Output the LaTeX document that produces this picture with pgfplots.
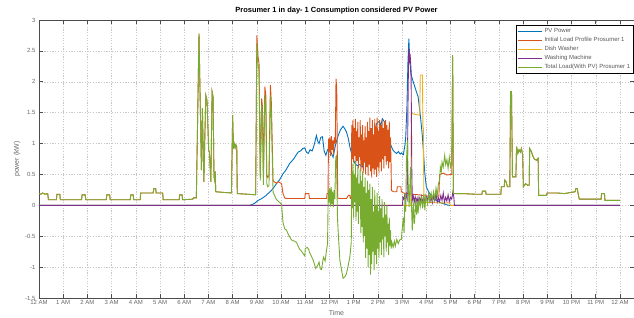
\documentclass[border=0pt]{standalone}
\usepackage{fontspec}
\setmainfont{Liberation Sans}
\usepackage{pgfplots}
\usepackage{pgfplotstable}
\pgfplotsset{compat=1.18}
\definecolor{mblue}{rgb}{0,0.447,0.741}
\definecolor{morange}{rgb}{0.85,0.325,0.098}
\definecolor{myellow}{rgb}{0.929,0.694,0.125}
\definecolor{mpurple}{rgb}{0.494,0.184,0.556}
\definecolor{mgreen}{rgb}{0.466,0.674,0.188}

% shared load profile before PV generation
\pgfplotstableread{
t p
0.00 0.19
0.08 0.18
0.15 0.20
0.25 0.18
0.36 0.19
0.39 0.09
0.72 0.09
0.74 0.18
0.86 0.18
0.88 0.09
1.76 0.09
1.78 0.17
1.91 0.17
1.93 0.09
2.78 0.09
2.80 0.17
2.92 0.17
2.94 0.09
3.77 0.09
3.79 0.17
3.89 0.17
3.91 0.09
4.18 0.09
4.20 0.20
4.72 0.20
4.74 0.27
4.82 0.27
4.84 0.20
5.11 0.20
5.13 0.09
5.79 0.09
5.81 0.17
5.91 0.17
5.93 0.09
6.35 0.10
6.38 0.12
6.50 0.12
6.61 2.78
6.71 0.57
6.75 1.57
6.81 0.38
6.89 1.78
6.94 1.70
7.01 0.89
7.04 0.86
7.10 0.38
7.15 1.84
7.19 1.76
7.23 0.46
7.26 0.40
7.28 0.55
7.30 0.22
7.60 0.21
7.95 0.20
8.00 1.46
8.03 0.92
8.06 1.00
8.10 0.93
8.13 0.98
8.17 0.95
8.19 0.19
8.60 0.18
8.95 0.17
}\early

% shared load profile after PV generation
\pgfplotstableread{
t p
17.12 0.19
17.50 0.19
18.00 0.18
18.30 0.18
18.32 0.23
18.45 0.23
18.47 0.18
19.08 0.18
19.10 0.30
19.22 0.30
19.24 0.41
19.30 0.38
19.35 0.30
19.45 0.30
19.48 1.84
19.52 1.84
19.56 0.46
19.70 0.46
19.73 0.95
19.78 0.84
19.83 0.90
19.88 0.86
19.93 0.92
19.98 0.82
20.01 0.30
20.10 0.35
20.20 0.32
20.25 0.33
20.27 0.92
20.33 0.88
20.40 0.80
20.46 0.75
20.55 0.73
20.62 0.76
20.64 0.16
20.97 0.16
20.99 0.20
21.40 0.20
21.70 0.19
22.00 0.21
22.15 0.22
22.18 0.27
22.24 0.27
22.26 0.21
22.32 0.10
23.22 0.10
23.24 0.19
23.36 0.19
23.38 0.08
24.00 0.08
}\late

\pgfplotstableread{
t p
0 0
8.70 0
8.78 0.01
8.90 0.03
9.05 0.08
9.20 0.11
9.35 0.15
9.46 0.19
9.60 0.24
9.70 0.29
9.81 0.35
9.95 0.42
10.08 0.51
10.20 0.57
10.36 0.68
10.50 0.74
10.60 0.80
10.70 0.86
10.80 0.88
10.90 0.92
10.98 0.93
11.05 0.86
11.12 0.84
11.20 0.90
11.28 0.88
11.35 0.95
11.46 1.13
11.52 1.03
11.57 1.00
11.64 1.10
11.71 1.11
11.78 0.88
11.85 0.81
11.92 0.90
12.01 0.92
12.08 0.84
12.15 0.78
12.25 0.98
12.36 1.13
12.45 1.22
12.56 1.28
12.63 1.24
12.70 1.19
12.78 1.08
12.84 0.95
12.95 0.78
13.05 0.68
13.15 0.64
13.25 0.66
13.35 0.62
13.46 0.73
13.55 0.76
13.65 0.86
13.74 0.89
13.84 1.10
13.94 1.32
14.05 1.36
14.12 1.30
14.19 1.40
14.27 1.35
14.36 1.22
14.43 1.10
14.49 1.02
14.56 0.95
14.63 0.89
14.70 0.86
14.77 0.84
14.85 0.87
14.92 0.83
14.97 0.85
15.05 0.82
15.12 0.98
15.15 1.11
15.20 1.60
15.24 2.30
15.28 2.70
15.31 2.40
15.36 2.13
15.42 2.05
15.50 1.95
15.58 1.85
15.66 1.76
15.71 1.60
15.76 1.43
15.84 1.11
15.90 0.75
15.94 0.51
16.00 0.30
16.07 0.24
16.14 0.19
16.28 0.12
16.42 0.08
16.60 0.04
16.83 0.01
16.95 0
24 0
}\pv

\pgfplotstableread{
t p
8.95 0.17
9.00 2.75
9.05 2.40
9.09 2.30
9.14 0.52
9.20 1.73
9.23 1.60
9.27 0.46
9.33 1.92
9.37 1.78
9.41 0.50
9.45 0.45
9.50 0.48
9.56 1.95
9.60 1.65
9.63 1.10
9.67 0.40
9.72 0.38
9.80 0.36
9.90 0.38
10.02 0.35
10.08 0.19
10.15 0.12
10.22 0.11
10.60 0.11
10.98 0.11
11.00 0.19
11.15 0.19
11.17 0.11
11.50 0.11
11.88 0.11
11.90 0.19
11.94 0.19
11.96 1.08
11.99 0.85
12.02 1.10
12.05 0.80
12.08 1.12
12.11 0.90
12.14 1.05
12.17 0.82
12.20 1.10
12.24 1.00
12.27 2.05
12.30 1.90
12.34 0.12
12.40 0.11
12.70 0.11
12.78 0.16
12.84 0.16
12.86 0.11
12.90 0.11
12.92 1.30
12.945 0.75
12.97 1.38
12.995 0.70
13.02 1.25
13.045 0.80
13.07 1.40
13.095 0.68
13.12 1.20
13.145 0.72
13.17 1.35
13.195 0.60
13.22 1.10
13.245 0.78
13.27 1.38
13.295 0.55
13.32 1.15
13.345 0.65
13.37 1.30
13.395 0.52
13.42 1.05
13.445 0.70
13.47 1.28
13.495 0.50
13.52 1.10
13.545 0.62
13.57 1.35
13.595 0.48
13.62 1.20
13.645 0.66
13.67 1.42
13.695 0.55
13.72 1.25
13.745 0.45
13.77 1.38
13.795 0.60
13.82 1.15
13.845 0.50
13.87 1.40
13.895 0.58
13.92 1.28
13.945 0.46
13.97 1.42
13.995 0.62
14.02 1.20
14.045 0.52
14.07 1.38
14.095 0.70
14.12 1.30
14.145 0.55
14.17 1.40
14.195 0.75
14.22 1.25
14.245 0.60
14.27 1.35
14.295 0.80
14.32 1.38
14.345 0.65
14.37 1.30
14.395 0.72
14.42 1.22
14.445 0.60
14.47 1.36
14.495 0.70
14.52 1.10
14.545 0.65
14.56 0.24
14.65 0.22
14.78 0.22
14.80 0.30
14.95 0.30
14.97 0.22
15.05 0.20
15.40 0.18
15.70 0.17
16.00 0.15
16.40 0.15
16.52 0.15
16.55 0.50
16.70 0.52
16.85 0.49
17.00 0.50
17.05 0.50
17.09 2.40
17.12 0.19
}\orangemid

\pgfplotstableread{
t p
0 0
15.36 0
15.38 1.49
15.55 1.47
15.73 1.46
15.75 2.11
15.84 2.11
15.86 1.27
15.88 1.25
15.90 0.05
16.50 0.04
16.97 0.04
16.99 0
24 0
}\dish

\pgfplotstableread{
t p
0 0
15.02 0
15.03 0.13
15.07 0.10
15.10 0.16
15.14 0.08
15.18 0.18
15.21 0.12
15.24 1.50
15.27 2.54
15.30 2.30
15.33 2.45
15.37 2.19
15.40 0.60
15.42 0.08
15.46 0.15
15.50 0.05
15.54 0.14
15.58 0.06
15.62 0.12
15.66 0.04
15.70 0.13
15.75 0.07
15.80 0.15
15.85 0.06
15.90 0.12
15.95 0.05
16.00 0.14
16.05 0.08
16.10 0.18
16.15 0.06
16.20 0.13
16.25 0.04
16.30 0.15
16.35 0.07
16.40 0.19
16.45 0.05
16.50 0.12
16.55 0.06
16.60 0.16
16.65 0.08
16.70 0.20
16.75 0.05
16.80 0.13
16.85 0.07
16.90 0.17
16.95 0.06
17.00 0.13
17.05 0.10
17.10 0.22
17.14 0.12
17.16 0
24 0
}\wash

\pgfplotstableread{
t p
8.95 0.17
9.00 2.62
9.05 2.28
9.09 2.18
9.14 0.40
9.20 1.62
9.23 1.48
9.27 0.33
9.33 1.79
9.37 1.64
9.41 0.35
9.45 0.30
9.50 0.32
9.56 1.78
9.60 1.48
9.63 0.92
9.67 0.21
9.72 0.17
9.80 0.10
9.90 0.06
10.02 0.02
10.08 -0.28
10.15 -0.38
10.22 -0.40
10.30 -0.47
10.43 -0.56
10.55 -0.58
10.64 -0.60
10.75 -0.70
10.84 -0.74
10.98 -0.82
11.00 -0.70
11.08 -0.68
11.15 -0.72
11.17 -0.76
11.25 -0.82
11.33 -0.89
11.43 -1.02
11.50 -0.98
11.57 -0.92
11.62 -1.03
11.67 -1.04
11.75 -0.84
11.82 -0.90
11.88 -0.72
11.92 -0.62
11.95 0.24
11.98 0.05
12.01 0.28
12.04 -0.02
12.07 0.30
12.10 0.02
12.13 0.22
12.16 -0.03
12.19 0.25
12.22 0.10
12.26 0.78
12.29 0.80
12.33 -0.20
12.37 -0.50
12.43 -0.89
12.50 -1.05
12.56 -1.18
12.63 -1.16
12.70 -1.11
12.77 -0.98
12.84 -0.84
12.90 -0.60
12.92 0.55
12.945 -0.05
12.97 0.68
12.995 -0.20
13.02 0.50
13.045 0.05
13.07 0.72
13.095 -0.25
13.12 0.45
13.145 -0.10
13.17 0.62
13.195 -0.30
13.22 0.35
13.245 0.00
13.27 0.60
13.295 -0.45
13.32 0.40
13.345 -0.35
13.37 0.55
13.395 -0.60
13.42 0.30
13.445 -0.50
13.47 0.45
13.495 -0.85
13.52 0.20
13.545 -0.70
13.57 0.40
13.595 -1.00
13.62 0.25
13.645 -0.80
13.67 0.35
13.695 -1.12
13.72 0.10
13.745 -0.95
13.77 0.30
13.795 -0.75
13.82 -0.10
13.845 -1.05
13.87 0.25
13.895 -0.80
13.92 0.00
13.945 -0.95
13.97 0.20
13.995 -0.70
14.02 -0.10
14.045 -0.85
14.07 0.15
14.095 -0.60
14.12 -0.05
14.145 -0.80
14.17 0.10
14.195 -0.55
14.22 -0.20
14.245 -0.84
14.27 0.05
14.295 -0.50
14.32 -0.15
14.345 -0.75
14.37 0.00
14.395 -0.60
14.42 -0.30
14.445 -0.80
14.47 -0.20
14.495 -0.65
14.52 -0.40
14.545 -0.70
14.58 -0.60
14.63 -0.68
14.68 -0.58
14.72 -0.66
14.78 -0.55
14.84 -0.62
14.90 -0.56
14.97 -0.55
15.00 -0.40
15.05 -0.20
15.08 -0.45
15.12 0.19
15.15 -0.10
15.18 0.73
15.22 1.05
15.25 0.40
15.29 -0.03
15.32 0.30
15.35 0.62
15.38 0.10
15.42 -0.41
15.46 0.05
15.50 -0.30
15.52 -0.24
15.56 0.10
15.60 -0.15
15.63 0.05
15.66 -0.13
15.70 0.10
15.75 -0.02
15.80 0.12
15.85 -0.05
15.90 0.18
15.94 -0.08
15.98 0.15
16.05 0.02
16.10 0.18
16.15 0.06
16.20 0.20
16.25 0.08
16.30 0.22
16.35 0.10
16.40 0.28
16.45 0.15
16.50 0.35
16.55 0.40
16.58 0.62
16.62 0.55
16.65 0.70
16.70 0.62
16.76 0.81
16.80 0.66
16.85 0.74
16.90 0.60
16.95 0.78
17.00 0.62
17.05 0.70
17.09 2.43
17.12 0.19
}\greenmid

\begin{document}
\begin{tikzpicture}
\begin{axis}[
  scale only axis,
  width=595bp, height=278bp,
  xmin=0, xmax=24.58,
  ymin=-1.5, ymax=3,
  xtick={0,1,...,24},
  xticklabels={12 AM,1 AM,2 AM,3 AM,4 AM,5 AM,6 AM,7 AM,8 AM,9 AM,10 AM,11 AM,12 PM,1 PM,2 PM,3 PM,4 PM,5 PM,6 PM,7 PM,8 PM,9 PM,10 PM,11 PM,12 AM},
  ytick={-1.5,-1,-0.5,0,0.5,1,1.5,2,2.5,3},
  yticklabels={-1.5,-1,-0.5,0,0.5,1,1.5,2,2.5,3},
  /pgf/number format/assume math mode=true,
  grid=major,
  major grid style={black!22, line width=0.4bp, dash pattern=on 1.2bp off 1.5bp},
  axis line style={black!70, line width=0.7bp},
  tick style={black!70, line width=0.6bp},
  major tick length=4bp,
  tick align=inside,
  xtick pos=both, ytick pos=both,
  tick label style={font=\fontsize{6}{7}\selectfont, text=black!60},
  xticklabel style={yshift=1bp},
  title={\bfseries Prosumer 1 in day- 1 Consumption considered PV Power},
  title style={font=\fontsize{7.5}{8}\selectfont, at={(axis description cs:0.5,1)}, anchor=south, yshift=-4bp},
  xlabel={Time},
  xlabel style={font=\fontsize{7}{8}\selectfont, text=black!60, at={(axis description cs:0.5,0)}, anchor=center, yshift=-15bp},
  ylabel={power (kW)},
  ylabel style={font=\fontsize{7}{8}\selectfont, text=black!60, at={(axis description cs:-0.037,0.5)}, anchor=center},
  legend cell align=left,
  legend style={at={(rel axis cs:1,0.982)}, anchor=north east,
    font=\fontsize{6}{6.5}\selectfont, text=black!65, draw=black, fill=white,
    line width=0.6bp, inner xsep=1.5bp, inner ysep=1bp, row sep=-0.8bp},
  legend image code/.code={\draw[#1, line width=1bp] (0bp,0bp) -- (24bp,0bp);},
  every axis plot/.append style={line width=0.9bp},
]
\addplot[color=mblue] table[x=t,y=p] {\pv};
\addlegendentry{PV Power}
\addplot[color=morange, forget plot] table[x=t,y=p] {\early};
\addplot[color=morange] table[x=t,y=p] {\orangemid};
\addlegendentry{Initial Load Profile Prosumer 1}
\addplot[color=morange, forget plot] table[x=t,y=p] {\late};
\addplot[color=myellow] table[x=t,y=p] {\dish};
\addlegendentry{Dish Washer}
\addplot[color=mpurple] table[x=t,y=p] {\wash};
\addlegendentry{Washing Machine}
\addplot[color=mgreen, forget plot] table[x=t,y=p] {\early};
\addplot[color=mgreen] table[x=t,y=p] {\greenmid};
\addlegendentry{Total Load(With PV) Prosumer 1}
\addplot[color=mgreen, forget plot] table[x=t,y=p] {\late};
\end{axis}
\pgfresetboundingbox
\path[use as bounding box] ([xshift=-39bp,yshift=-20bp]current axis.south west) rectangle ([yshift=20bp]current axis.north east);
\end{tikzpicture}
\end{document}
